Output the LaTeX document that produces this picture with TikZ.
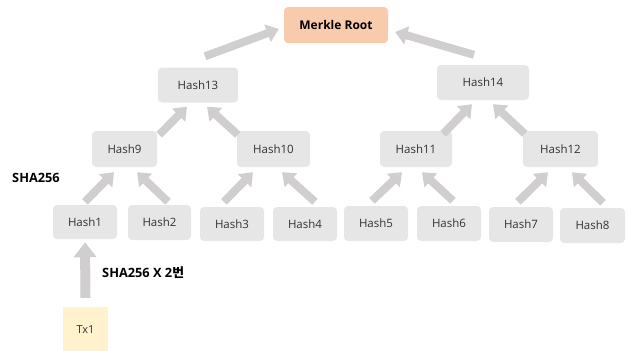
\documentclass[tikz,border=0pt]{standalone}
\usepackage{fontspec}
\setmainfont{Open Sans}
\newfontfamily\krfont{Noto Sans CJK KR}
\usetikzlibrary{arrows.meta}
\definecolor{boxgray}{HTML}{E6E6E6}
\definecolor{rootorange}{HTML}{F8CBAD}
\definecolor{txyellow}{HTML}{FFF2CC}
\definecolor{arrowgray}{HTML}{D0CECE}
\definecolor{textgray}{HTML}{333333}

\begin{document}
\begin{tikzpicture}[x=1pt, y=-1pt, yscale=1, xscale=1,
  hashbox/.style={fill=boxgray, rounded corners=4pt, inner sep=0pt, minimum width=64pt, minimum height=35pt, text=textgray, font=\fontsize{11.5}{13}\selectfont},
  rootbox/.style={hashbox, fill=rootorange, text=black, font=\fontsize{12}{14}\selectfont\bfseries},
  txbox/.style={fill=txyellow, inner sep=0pt, minimum width=45pt, minimum height=46pt, text=textgray, font=\fontsize{11}{13}\selectfont},
  hasharrow/.style={draw=arrowgray, line width=8pt, -{Triangle[length=12pt, width=18pt]}},
  txarrow/.style={hasharrow, line width=10pt, -{Triangle[length=15pt, width=22pt]}},
  steplabel/.style={anchor=west, inner sep=0pt, font=\fontsize{12.8}{14}\selectfont\bfseries}]
\useasboundingbox (0, 0) rectangle (630, 351);
%Boxes
\draw (336, 25) node [rootbox, minimum width=104pt, minimum height=36pt] (root) {Merkle Root};
\draw (198, 85) node [hashbox, minimum width=80pt] (h13) {Hash13};
\draw (483, 82.5) node [hashbox, minimum width=92pt] (h14) {Hash14};
\draw (124.5, 149) node [hashbox, minimum width=65pt, minimum height=36pt] (h9) {Hash9};
\draw (273.5, 149) node [hashbox, minimum width=73pt, minimum height=36pt] (h10) {Hash10};
\draw (416, 149) node [hashbox, minimum width=72pt, minimum height=36pt] (h11) {Hash11};
\draw (560.5, 149) node [hashbox, minimum width=75pt, minimum height=36pt] (h12) {Hash12};
\draw (85, 222) node [hashbox, minimum height=34pt] (h1) {Hash1};
\draw (159.5, 222.5) node [hashbox, minimum width=63pt] (h2) {Hash2};
\draw (232, 224) node [hashbox, minimum height=34pt] (h3) {Hash3};
\draw (305, 224) node [hashbox, minimum height=34pt] (h4) {Hash4};
\draw (376, 223.5) node [hashbox] (h5) {Hash5};
\draw (449, 223.5) node [hashbox] (h6) {Hash6};
\draw (521, 224.5) node [hashbox] (h7) {Hash7};
\draw (592.5, 225.5) node [hashbox, minimum width=65pt] (h8) {Hash8};
\draw (85.5, 330) node [txbox] (tx1) {Tx1};
%Text
\draw (12, 178) node [steplabel] (sha) {SHA256};
\draw (102, 273) node [steplabel] (shatwice) {SHA256 X 2{\krfont 번}};
%Arrows
\draw [hasharrow] ([shift={(7pt, 11pt)}]h13.north) -- ([shift={(-5pt, -4pt)}]root.west);
\draw [hasharrow] ([shift={(-9pt, 10pt)}]h14.north) -- ([shift={(7pt, -7pt)}]root.east);
\draw [hasharrow] ([shift={(2pt, -4pt)}]h9.north east) -- ([shift={(-11pt, -4pt)}]h13.south);
\draw [hasharrow] ([shift={(1pt, -4pt)}]h10.north west) -- ([shift={(9pt, -4pt)}]h13.south);
\draw [hasharrow] ([shift={(-9pt, -3pt)}]h11.north east) -- ([shift={(-11pt, -4pt)}]h14.south);
\draw [hasharrow] ([shift={(2pt, -3pt)}]h12.north west) -- ([shift={(10pt, -4pt)}]h14.south);
\draw [hasharrow] ([shift={(0pt, 3pt)}]h1.north) -- ([shift={(-10.5pt, -5pt)}]h9.south);
\draw [hasharrow] ([shift={(8.5pt, 3pt)}]h2.north) -- ([shift={(12.5pt, -5pt)}]h9.south);
\draw [hasharrow] ([shift={(-8pt, 5pt)}]h3.north) -- ([shift={(-20.5pt, -5pt)}]h10.south);
\draw [hasharrow] ([shift={(10pt, 5pt)}]h4.north) -- ([shift={(8.5pt, -5pt)}]h10.south);
\draw [hasharrow] ([shift={(-4pt, 5pt)}]h5.north) -- ([shift={(-14pt, -5pt)}]h11.south);
\draw [hasharrow] ([shift={(4pt, 5pt)}]h6.north) -- ([shift={(6pt, -5pt)}]h11.south);
\draw [hasharrow] ([shift={(-3pt, 5pt)}]h7.north) -- ([shift={(-12.5pt, -5pt)}]h12.south);
\draw [hasharrow] ([shift={(10.5pt, 5pt)}]h8.north) -- ([shift={(11.5pt, -5pt)}]h12.south);
\draw [txarrow] ([shift={(0pt, 9pt)}]tx1.north) -- ([shift={(0pt, -3pt)}]h1.south);
\end{tikzpicture}
\end{document}
